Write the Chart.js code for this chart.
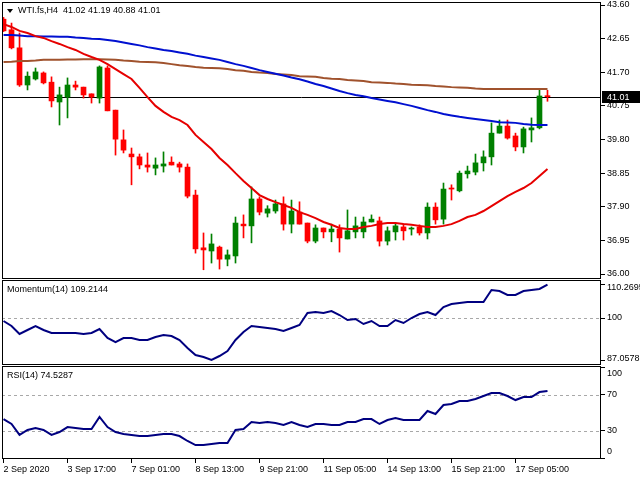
<!DOCTYPE html>
<html><head><meta charset="utf-8">
<script src="https://cdn.jsdelivr.net/npm/chart.js@4.4.0/dist/chart.umd.min.js"></script>
<style>html,body{margin:0;padding:0;background:#fff;overflow:hidden}#wrap{position:relative;width:640px;height:480px}canvas{display:block}</style>
</head><body><div id="wrap"><canvas id="c" width="640" height="480"></canvas></div>
<script>
// ---- data (H4 bars) ----
const openP  = [43.20,42.90,42.39,41.34,41.51,41.68,41.42,40.86,41.00,41.34,41.28,41.09,40.97,41.82,40.63,39.79,39.39,39.31,39.08,38.99,39.05,39.16,39.11,39.02,38.23,36.74,36.65,36.76,36.42,36.51,37.41,37.36,38.12,37.72,37.78,37.98,37.41,37.75,37.44,36.93,37.30,37.19,37.27,36.99,37.19,37.19,37.47,37.50,36.93,37.19,37.33,37.27,37.33,37.16,37.89,37.55,38.43,38.35,38.83,38.88,39.14,39.31,39.98,40.18,39.90,39.59,40.07,40.13,41.02];
const highP  = [43.25,43.09,42.81,41.71,41.82,41.71,41.57,41.28,41.54,41.45,41.28,41.09,41.88,41.88,40.63,40.07,39.56,39.39,39.42,39.28,39.45,39.31,39.16,39.11,38.37,37.16,37.13,36.79,36.68,37.61,37.67,38.46,38.18,37.93,38.09,38.18,38.09,38.04,37.44,37.39,37.30,37.41,37.39,37.81,37.61,37.61,37.67,37.61,37.33,37.41,37.39,37.33,37.39,38.01,38.01,38.57,38.52,38.91,39.05,39.39,39.48,40.27,40.35,40.35,39.98,40.15,40.41,41.20,41.19];
const lowP   = [42.85,42.36,41.30,41.20,41.48,41.37,40.72,40.21,40.41,41.20,40.97,40.83,40.83,40.61,39.36,39.42,38.52,38.97,38.88,38.80,38.88,39.08,38.88,38.15,36.59,36.12,36.31,36.14,36.23,36.31,37.02,36.88,37.67,37.61,37.72,37.24,37.16,37.41,36.88,36.88,37.02,36.91,36.62,36.99,37.02,37.02,37.47,36.79,36.82,36.96,36.96,37.10,37.10,36.99,37.41,37.41,38.09,38.32,38.71,38.80,38.91,39.08,39.98,39.81,39.48,39.42,39.73,40.10,40.88];
const closeP = [42.87,42.39,41.34,41.59,41.71,41.40,40.89,41.06,41.34,41.28,41.06,41.00,41.85,40.61,39.81,39.50,39.31,39.08,39.02,39.08,39.11,39.08,39.02,38.20,36.71,36.68,36.85,36.42,36.54,37.44,37.36,38.12,37.75,37.84,37.98,37.41,37.78,37.41,36.93,37.30,37.19,37.27,37.02,37.22,37.36,37.47,37.55,36.93,37.22,37.36,37.22,37.30,37.16,37.89,37.53,38.40,38.40,38.85,38.91,39.14,39.31,39.98,40.18,39.84,39.59,40.10,40.13,41.03,41.01];
const maFast = [43.06,42.98,42.87,42.81,42.72,42.67,42.58,42.50,42.41,42.33,42.22,42.13,42.05,41.93,41.79,41.65,41.51,41.26,41.00,40.75,40.58,40.44,40.35,40.21,39.93,39.73,39.53,39.28,39.08,38.85,38.63,38.43,38.23,38.12,38.03,37.95,37.87,37.75,37.67,37.58,37.47,37.39,37.30,37.27,37.27,37.33,37.36,37.41,37.44,37.44,37.41,37.39,37.36,37.33,37.33,37.36,37.41,37.50,37.61,37.67,37.78,37.92,38.06,38.20,38.32,38.43,38.57,38.77,38.97];
const maMid  = [42.75,42.75,42.74,42.72,42.72,42.71,42.71,42.70,42.70,42.68,42.67,42.65,42.64,42.61,42.58,42.54,42.50,42.46,42.41,42.37,42.33,42.30,42.26,42.22,42.17,42.13,42.09,42.05,41.99,41.93,41.88,41.82,41.76,41.71,41.66,41.61,41.55,41.50,41.44,41.37,41.31,41.24,41.17,41.11,41.06,41.02,40.97,40.93,40.89,40.85,40.80,40.75,40.69,40.63,40.58,40.52,40.48,40.44,40.41,40.38,40.35,40.32,40.29,40.28,40.27,40.24,40.22,40.21,40.21];
const maSlow = [41.99,42.00,42.02,42.02,42.03,42.05,42.05,42.05,42.06,42.06,42.07,42.07,42.07,42.06,42.05,42.03,42.02,42.00,41.99,41.98,41.96,41.93,41.90,41.88,41.85,41.83,41.82,41.81,41.79,41.76,41.74,41.71,41.69,41.68,41.65,41.64,41.62,41.59,41.58,41.57,41.54,41.52,41.51,41.48,41.47,41.45,41.42,41.41,41.40,41.38,41.37,41.35,41.34,41.33,41.31,41.30,41.28,41.27,41.26,41.24,41.23,41.23,41.23,41.23,41.23,41.23,41.23,41.23,41.23];
const momentum = [99.08,97.53,95.07,96.30,97.53,96.30,95.38,95.38,95.38,95.38,95.07,95.38,96.61,93.84,92.60,93.84,93.84,93.22,93.22,94.14,94.76,94.45,93.22,90.76,88.60,87.98,87.06,88.29,89.83,93.22,95.69,97.53,97.23,96.92,96.61,95.99,96.92,97.84,101.54,101.85,101.54,102.16,100.92,99.38,99.69,98.15,99.08,97.53,97.53,99.38,98.46,100.00,101.23,101.85,100.92,103.39,104.31,104.62,104.93,104.93,104.93,108.63,108.32,107.09,107.09,108.32,108.63,108.94,110.27];
const rsi = [43.3,37.8,25.6,31.1,33.3,31.1,25.6,28.9,34.4,33.3,32.2,32.2,45.6,34.4,28.9,26.7,25.6,24.4,24.4,25.6,26.7,26.7,24.4,18.9,14.4,14.4,15.6,16.7,16.7,31.1,32.2,40.0,38.9,40.0,38.9,36.7,40.0,36.7,34.4,37.8,37.8,36.7,36.7,40.0,40.0,43.3,43.3,37.8,42.2,44.4,42.2,42.2,42.2,52.2,48.9,58.9,60.0,63.3,63.3,65.6,68.9,72.2,72.2,68.9,64.4,67.8,67.8,73.3,74.53];
const xTickIndex  = [0,8,16,24,32,40,48,56,64];
const xTickLabels = ['2 Sep 2020','3 Sep 17:00','7 Sep 01:00','8 Sep 13:00','9 Sep 21:00','11 Sep 05:00','14 Sep 13:00','15 Sep 21:00','17 Sep 05:00'];
const priceTicks = [43.60,42.65,41.70,40.75,39.80,38.85,37.90,36.95,36.00];
const momTicks = [110.2695,100,87.0578];
const rsiTicks = [100,70,30,0];
const lastPrice = 41.01;
const titleText = 'WTI.fs,H4  41.02 41.19 40.88 41.01';
const momText = 'Momentum(14) 109.2144';
const rsiText = 'RSI(14) 74.5287';

// ---- styling ----
const FAM = '"Liberation Sans", Arial, sans-serif';
const FONT = '9px ' + FAM;
const UP = '#008000', DOWN = '#ff0000';
const idx = openP.map((_, i) => i);
const candleCol = idx.map(i => closeP[i] >= openP[i] ? UP : DOWN);

const panelPlugin = {
  id: 'panels',
  beforeDraw(chart) {
    const c = chart.ctx; c.save(); c.fillStyle = '#fff'; c.fillRect(0, 0, chart.width, chart.height); c.restore();
  },
  beforeDatasetsDraw(chart) {
    const c = chart.ctx, a = chart.chartArea, s = chart.scales;
    c.save();
    c.strokeStyle = '#a8a8a8'; c.lineWidth = 1; c.setLineDash([3, 3]);
    const dash = (sc, v) => { const y = Math.round(sc.getPixelForValue(v)) + 0.5; c.beginPath(); c.moveTo(a.left, y); c.lineTo(a.right, y); c.stroke(); };
    dash(s.yM, 100); dash(s.yR, 70); dash(s.yR, 30);
    c.setLineDash([]);
    c.strokeStyle = '#000';
    const py = Math.round(s.y.getPixelForValue(lastPrice)) + 0.5;
    c.beginPath(); c.moveTo(a.left, py); c.lineTo(a.right, py); c.stroke();
    c.restore();
  },
  afterDraw(chart) {
    const c = chart.ctx, a = chart.chartArea, s = chart.scales;
    c.save();
    c.strokeStyle = '#000'; c.lineWidth = 1;
    const L = a.left + 0.5, W = a.right - a.left - 1;
    const box = (t, b) => c.strokeRect(L, Math.round(t) + 0.5, W, Math.round(b) - Math.round(t));
    box(s.y.top, s.y.bottom - 1);
    box(s.yM.top + 1, s.yM.bottom - 1);
    box(s.yR.top + 1, s.yR.bottom);
    c.font = FONT; c.textBaseline = 'middle'; c.textAlign = 'left';
    // indicator scale labels, kept inside their panel like the terminal does
    c.fillStyle = '#000';
    const panelLabels = (sc, vals) => vals.forEach(v => {
      const y = Math.min(Math.max(sc.getPixelForValue(v), sc.top + 8.5), sc.bottom - 6.5);
      c.fillText(String(v), a.right + 6, y);
    });
    panelLabels(s.yM, momTicks);
    panelLabels(s.yR, rsiTicks);
    // price box
    const py = s.y.getPixelForValue(lastPrice);
    c.fillStyle = '#000'; c.fillRect(a.right + 1, Math.round(py) - 6, chart.width - a.right - 1, 12);
    c.fillStyle = '#fff';
    c.fillText(lastPrice.toFixed(2), a.right + 6, py + 0.5);
    // titles
    c.fillStyle = '#000';
    c.beginPath(); c.moveTo(7, 9); c.lineTo(13, 9); c.lineTo(10, 13); c.closePath(); c.fill();
    c.fillText(titleText, 18, 11);
    c.fillText(momText, 7, s.yM.top + 11);
    c.fillText(rsiText, 7, s.yR.top + 11);
    c.restore();
  }
};

const lineDs = (data, color, axis) => ({
  type: 'line', data: data.map((v, i) => ({x: i, y: v})), borderColor: color, borderWidth: 2,
  pointRadius: 0, tension: 0, yAxisID: axis, order: 0, fill: false
});

const noPad = sc => { sc.paddingTop = 0; sc.paddingBottom = 0; sc.paddingLeft = 0; sc.paddingRight = 0; };

const yCommon = {
  position: 'right', stack: 'panels', offset: false,
  border: {display: false},
  grid: {drawOnChartArea: false, drawTicks: true, tickLength: 4, tickColor: '#000'},
  ticks: {color: '#000', font: {family: FAM, size: 9}, padding: 2, autoSkip: false},
  afterFit: sc => { sc.width = 39; noPad(sc); }
};

new Chart(document.getElementById('c'), {
  type: 'line',
  data: {
    datasets: [
      lineDs(maFast, '#e60000', 'y'),
      lineDs(maMid, '#0010d0', 'y'),
      lineDs(maSlow, '#a0522d', 'y'),
      lineDs(momentum, '#000080', 'yM'),
      lineDs(rsi, '#000080', 'yR'),
      {type: 'bar', data: idx.map(i => ({x: i, y: [openP[i], closeP[i]]})), backgroundColor: candleCol,
       barThickness: 5, grouped: false, minBarLength: 1, yAxisID: 'y', order: 1, borderWidth: 0},
      {type: 'bar', data: idx.map(i => ({x: i, y: [lowP[i], highP[i]]})), backgroundColor: candleCol,
       barThickness: 1, grouped: false, yAxisID: 'y', order: 2, borderWidth: 0}
    ]
  },
  options: {
    responsive: false, animation: false, events: [],
    layout: {padding: {left: 2, top: 2, right: 0, bottom: 0}},
    plugins: {legend: {display: false}, tooltip: {enabled: false}},
    scales: {
      x: {
        type: 'linear', min: -0.19, max: 74.69, offset: false,
        border: {display: false},
        grid: {drawOnChartArea: false, drawTicks: true, tickLength: 5, tickColor: '#000', offset: false},
        afterBuildTicks: sc => { sc.ticks = xTickIndex.map(v => ({value: v})); },
        afterFit: sc => { sc.height = 22; noPad(sc); },
        ticks: {color: '#000', font: {family: FAM, size: 9}, align: 'start',
                maxRotation: 0, autoSkip: false, padding: 1,
                callback: (v, i) => xTickLabels[i]}
      },
      y: Object.assign({}, yCommon, {
        min: 35.859, max: 43.685, stackWeight: 277,
        afterBuildTicks: sc => { sc.ticks = priceTicks.map(v => ({value: v})); },
        ticks: Object.assign({}, yCommon.ticks, {callback: v => Number(v).toFixed(2)})
      }),
      yM: Object.assign({}, yCommon, {
        min: 85.52, max: 112.02, stackWeight: 86,
        afterBuildTicks: sc => { sc.ticks = momTicks.map(v => ({value: v})); },
        ticks: Object.assign({}, yCommon.ticks, {display: false})
      }),
      yR: Object.assign({}, yCommon, {
        min: 0, max: 103.33, stackWeight: 93,
        afterBuildTicks: sc => { sc.ticks = rsiTicks.map(v => ({value: v})); },
        ticks: Object.assign({}, yCommon.ticks, {display: false})
      })
    }
  },
  plugins: [panelPlugin]
});
</script>
</body></html>
